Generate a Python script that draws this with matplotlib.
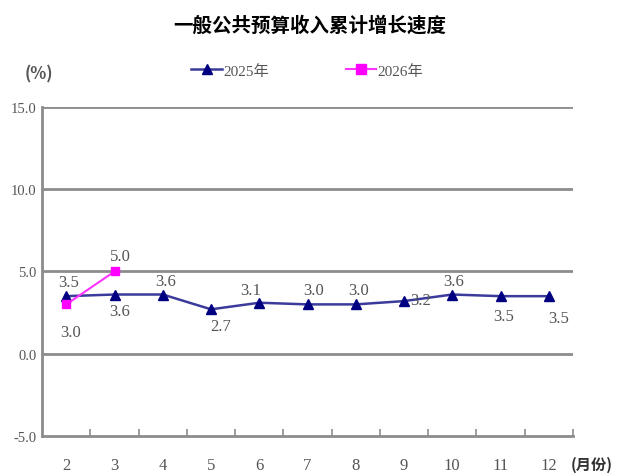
import numpy as np
import matplotlib.pyplot as plt

plt.rcParams['font.family'] = ['Liberation Serif', 'Noto Sans CJK SC']

# Data
months = ['2', '3', '4', '5', '6', '7', '8', '9', '10', '11', '12']
y2025 = [3.5, 3.6, 3.6, 2.7, 3.1, 3.0, 3.0, 3.2, 3.6, 3.5, 3.5]
y2026 = [3.0, 5.0]
yticks = [-5.0, 0.0, 5.0, 10.0, 15.0]

# label offsets (points) for each data label
off2025 = [(2, 10), (4, -12), (2, 10), (7, -12), (-6, 9), (4, 10), (2, 10),
           (12, 1), (1, 10), (2, -14), (7, -16)]
off2026 = [(3, -20), (4, 11)]

x = np.arange(len(months))
grey = '#8c8c8c'
txt = '#555555'

fig = plt.figure(figsize=(6.2, 4.77), dpi=100)
ax = fig.add_axes([0.068, 0.0839, 0.856, 0.6897])

for v in yticks[1:]:
    ax.axhline(v, color=grey, lw=2, zorder=1)

ax.plot(x, y2025, color='#3b3b9c', lw=1.8, marker='^', ms=7,
        mfc='#000080', mec='#000080', label='2025年', zorder=3)
ax.plot(x[:len(y2026)], y2026, color='#ff33ff', lw=1.5, marker='s', ms=6,
        mfc='#ff00ff', mec='#ff00ff', label='2026年', zorder=4)

for xi, v, o in zip(x, y2025, off2025):
    ax.annotate(f'{v:.1f}', (xi, v), xytext=o, textcoords='offset points',
                ha='center', va='center', fontsize=12, color=txt)
for xi, v, o in zip(x, y2026, off2026):
    ax.annotate(f'{v:.1f}', (xi, v), xytext=o, textcoords='offset points',
                ha='center', va='center', fontsize=12, color=txt)

ax.set_xlim(-0.5, len(months) - 0.5)
ax.set_ylim(-5, 15)
ax.set_yticks(yticks)
ax.set_yticklabels([f'{v:.1f}' for v in yticks])
ax.tick_params(axis='y', length=0, labelsize=10.5, labelcolor=txt, pad=4)

ax.set_xticks(x + 0.5)
ax.set_xticks(x, minor=True)
ax.set_xticklabels([])
ax.set_xticklabels(months, minor=True)
ax.tick_params(axis='x', which='major', direction='in', length=5,
               color=grey, width=1.2)
ax.tick_params(axis='x', which='minor', length=0, labelsize=12,
               labelcolor=txt, pad=15)

for s in ['top', 'right']:
    ax.spines[s].set_visible(False)
for s in ['left', 'bottom']:
    ax.spines[s].set_color(grey)
    ax.spines[s].set_linewidth(2)

fig.text(0.5, 0.945, '一般公共预算收入累计增长速度', ha='center', va='center',
         fontsize=14, fontweight='bold', family=['Noto Sans CJK SC'])
fig.text(0.062, 0.843, '(%)', ha='center', va='center', fontsize=12,
         fontweight='bold', color=txt, family=['Noto Sans CJK SC'])
fig.text(0.955, 0.025, '(月份)', ha='center', va='center', fontsize=11,
         fontweight='bold', color='#333333', family=['Noto Sans CJK SC'])

ax.legend(loc='center', bbox_to_anchor=(0.5, 1.11), ncol=2, frameon=False,
          fontsize=11, labelcolor=txt, columnspacing=5, handlelength=2,
          handletextpad=0.1, markerscale=1.1)

fig.savefig('out.png', dpi=100)
